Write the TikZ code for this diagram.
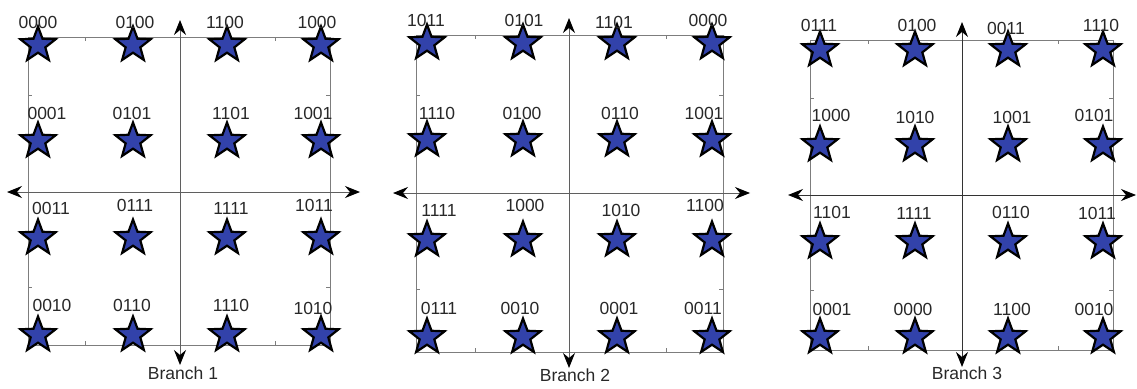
\documentclass[tikz,border=0pt]{standalone}
\usepackage{fontspec}
\setmainfont{Liberation Sans}
\usetikzlibrary{shapes.geometric,arrows.meta}
\definecolor{starblue}{RGB}{50,66,170}
\definecolor{linegray}{RGB}{125,125,125}
\definecolor{axisgray}{RGB}{95,95,95}
\definecolor{txt}{RGB}{40,40,40}
\tikzset{
  pt/.style={star,star points=5,star point ratio=2.4,minimum size=37pt,inner sep=0pt,
             fill=starblue,draw=black,line width=2.2pt},
  lbl/.style={font=\fontsize{17.5}{19}\selectfont,text=txt,inner sep=0pt},
  branchlbl/.style={font=\fontsize{17.5}{19}\selectfont,text=txt,inner sep=0pt},
  frame/.style={draw=linegray,line width=1pt},
  axis/.style={draw=axisgray,line width=1pt,<->},
  tickmark/.style={draw=linegray,line width=0.8pt},
  >={Stealth[length=15pt,width=12pt,inset=5pt,color=black]}
}
\begin{document}
\begin{tikzpicture}[x=1pt,y=-1pt]
\useasboundingbox (0,0) rectangle (1137,388);

% ---------------- Panel 1 ----------------
\coordinate (f1a) at (28,37);  \coordinate (f1b) at (330,345);
\draw[frame] (f1a) rectangle (f1b);
\coordinate (v1t) at (180,20); \coordinate (v1b) at (180,365);
\coordinate (h1l) at (7,192);  \coordinate (h1r) at (360,192);
\draw[axis] (v1b) -- (v1t);
\draw[axis] (h1l) -- (h1r);
\foreach \x in {85,275} {\draw[tickmark] (\x,37) -- ++(0,4); \draw[tickmark] (\x,345) -- ++(0,-4);}
\foreach \y in {95,287} {\draw[tickmark] (28,\y) -- ++(4,0); \draw[tickmark] (330,\y) -- ++(-4,0);}
\foreach \x [count=\i] in {38,133,227,321}
  \foreach \y [count=\j] in {45,141,238,335}
    \node[pt] (s1-\j-\i) at (\x,\y) {};
\foreach \n/\x/\y/\t in {a/38/22/0000,b/135/22/0100,c/225/22/1100,d/317/22/1000,
  e/47/113/0001,f/132/113/0101,g/231/113/1101,h/313/113/1001,
  i/51/208/0011,j/135/205/0111,k/231/208/1111,l/314/205/1011,
  m/52/305/0010,n/132/305/0110,o/231/305/1110,p/313/308/1010}
  \node[lbl] (l1\n) at (\x,\y) {\t};
\node[branchlbl] (c1) at (183,373) {Branch 1};

% ---------------- Panel 2 ----------------
\coordinate (f2a) at (416,35);  \coordinate (f2b) at (723,352);
\draw[frame] (f2a) rectangle (f2b);
\coordinate (v2t) at (569,18); \coordinate (v2b) at (569,368);
\coordinate (h2l) at (393,193);  \coordinate (h2r) at (750,193);
\draw[axis] (v2b) -- (v2t);
\draw[axis] (h2l) -- (h2r);
\foreach \x in {475,666} {\draw[tickmark] (\x,35) -- ++(0,4); \draw[tickmark] (\x,352) -- ++(0,-4);}
\foreach \y in {95,289} {\draw[tickmark] (416,\y) -- ++(4,0); \draw[tickmark] (723,\y) -- ++(-4,0);}
\foreach \x [count=\i] in {427,523,617,712}
  \foreach \y [count=\j] in {43,140,240,337}
    \node[pt] (s2-\j-\i) at (\x,\y) {};
\foreach \n/\x/\y/\t in {a/426/20/1011,b/524/20/0101,c/614/22/1101,d/708/20/0000,
  e/437/113/1110,f/522/113/0100,g/620/113/0110,h/704/113/1001,
  i/439/210/1111,j/525/205/1000,k/621/210/1010,l/705/205/1100,
  m/439/308/0111,n/520/308/0010,o/619/308/0001,p/703/308/0011}
  \node[lbl] (l2\n) at (\x,\y) {\t};
\node[branchlbl] (c2) at (575,375) {Branch 2};

% ---------------- Panel 3 ----------------
\coordinate (f3a) at (810,40);  \coordinate (f3b) at (1113,350);
\draw[frame] (f3a) rectangle (f3b);
\coordinate (v3t) at (962,22); \coordinate (v3b) at (962,367);
\coordinate (h3l) at (788,195);  \coordinate (h3r) at (1136,195);
\draw[axis,draw=black!80] (v3b) -- (v3t);
\draw[axis,draw=black!80] (h3l) -- (h3r);
\foreach \x in {868,1058} {\draw[tickmark] (\x,40) -- ++(0,4); \draw[tickmark] (\x,350) -- ++(0,-4);}
\foreach \y in {98,290} {\draw[tickmark] (810,\y) -- ++(4,0); \draw[tickmark] (1113,\y) -- ++(-4,0);}
\foreach \x [count=\i] in {820,915,1008,1103}
  \foreach \y [count=\j] in {50,145,242,337}
    \node[pt] (s3-\j-\i) at (\x,\y) {};
\foreach \n/\x/\y/\t in {a/819/25/0111,b/917/25/0100,c/1006/28/0011,d/1101/25/1110,
  e/831/115/1000,f/915/117/1010,g/1012/117/1001,h/1094/115/0101,
  i/832/212/1101,j/914/213/1111,k/1011/212/0110,l/1097/213/1011,
  m/832/309/0001,n/913/309/0000,o/1012/309/1100,p/1094/309/0010}
  \node[lbl] (l3\n) at (\x,\y) {\t};
\node[branchlbl] (c3) at (967,373) {Branch 3};
\end{tikzpicture}
\end{document}
